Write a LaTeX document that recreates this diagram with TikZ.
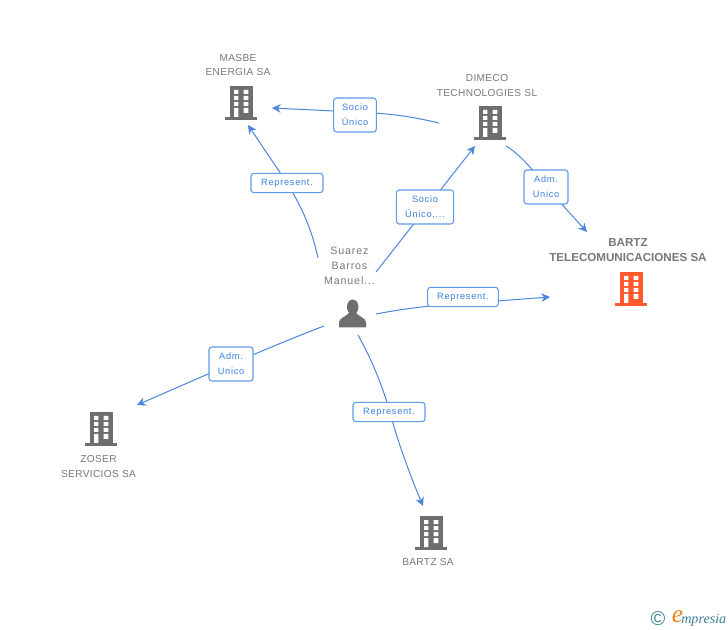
\documentclass[tikz,border=0pt]{standalone}
\usepackage{fontspec}
\setmainfont{Liberation Sans}
\newfontfamily\spaced[LetterSpace=8]{Liberation Sans}
\newfontfamily\spacedn[LetterSpace=3.5]{Liberation Sans}
\newfontfamily\logofont{Liberation Serif}
\usetikzlibrary{arrows.meta}
\definecolor{edgeblue}{HTML}{4A86DC}
\definecolor{boxblue}{HTML}{5E9BEA}
\definecolor{txtblue}{HTML}{3A7FDC}
\definecolor{graytxt}{HTML}{787878}
\definecolor{iconGray}{HTML}{6E6E6E}
\definecolor{iconOrange}{HTML}{FF5A2C}
\definecolor{logoTeal}{HTML}{3F7F96}
\definecolor{logoOrange}{HTML}{F0821E}
\tikzset{
  x=0.75pt,y=-0.75pt,
  conn/.style={draw=edgeblue,line width=0.75pt},
  connarrow/.style={conn,-{Stealth[length=6.5pt,width=6.5pt]}},
  tag/.style={draw=boxblue,line width=0.8pt,rounded corners=2.2pt,fill=white,align=center,
    text=txtblue,font=\spaced\fontsize{6.9pt}{11pt}\selectfont,inner sep=0pt,anchor=center},
  entity/.style={text=graytxt,align=center,font=\spacedn\fontsize{7.6pt}{10.9pt}\selectfont,inner sep=0pt},
  pics/building/.style={code={
    \fill[#1] (-11,-17) rectangle (11.5,14);
    \fill[#1] (-16,14) rectangle (16,17);
    \fill[white] (-7,-13) rectangle (-2.7,-9) (2.5,-13) rectangle (7.3,-9)
                 (-7,-7) rectangle (-2.7,-3) (2.5,-7) rectangle (7.3,-3)
                 (-7,-1) rectangle (-2.7,3) (2.5,-1) rectangle (7.3,3)
                 (-7,5) rectangle (-2.7,14) (2.5,5) rectangle (7.3,10);
  }},
}
\begin{document}
\begin{tikzpicture}
\useasboundingbox (0,0) rectangle (728,630);
% entities
\pic at (241,103) {building=iconGray};
\pic at (490,123) {building=iconGray};
\pic at (631,289) {building=iconOrange};
\pic at (101,429) {building=iconGray};
\pic at (431,533) {building=iconGray};
\node[entity] (masbe) at (238,65) {MASBE\\ENERGIA SA};
\node[entity] (dimeco) at (487,85.5) {DIMECO\\TECHNOLOGIES SL};
\node[entity,font=\bfseries\fontsize{8.7pt}{11.2pt}\selectfont] (bartzt) at (628,250.5) {BARTZ\\TELECOMUNICACIONES SA};
\node[entity] (zoser) at (98.5,466.5) {ZOSER\\SERVICIOS SA};
\node[entity] (bartz) at (428,562) {BARTZ SA};
\node[entity,font=\spaced\fontsize{8pt}{11.3pt}\selectfont] (suarez) at (349.5,266) {Suarez\\Barros\\Manuel...};
% person
\fill[iconGray] (352.7,307) ellipse (5.8 and 7.5);
\fill[iconGray] (339,327.3) -- (339,322) .. controls (339.5,318) and (346,316.5) .. (349,313)
  -- (356,313) .. controls (359,316.5) and (365.5,318) .. (366,322) -- (366,327.3) -- cycle;
% connector ends
\coordinate (a1) at (439,123); \coordinate (b1) at (272,108);
\coordinate (a2) at (318,258); \coordinate (b2) at (248,125);
\coordinate (a3) at (376,272); \coordinate (b3) at (475,146);
\coordinate (a4) at (506,146); \coordinate (b4) at (587,232);
\coordinate (a5) at (376,314); \coordinate (b5) at (550,297);
\coordinate (a6) at (324,326); \coordinate (b6) at (137,405);
\coordinate (a7) at (358,335); \coordinate (b7) at (423,506);
% points under the labels
\coordinate (m1) at (355,112);
\coordinate (m2) at (287,183);
\coordinate (m4) at (546,187);
\coordinate (m5) at (463,303.5);
\coordinate (m6) at (231,364);
\coordinate (m7) at (390,412);
% connectors
\draw[conn] (a1) .. controls (415,117.5) and (395,113.5) .. (m1);
\draw[connarrow] (m1) -- (b1);
\draw[conn] (a2) .. controls (313,235) and (305,212) .. (m2);
\draw[connarrow] (m2) -- (b2);
\draw[connarrow] (a3) -- (b3);
\draw[conn] (a4) .. controls (518,153) and (532,168) .. (m4);
\draw[connarrow] (m4) -- (b4);
\draw[conn] (a5) .. controls (395,310.5) and (420,306) .. (m5);
\draw[connarrow] (m5) -- (b5);
\draw[conn] (a6) .. controls (295,337) and (262,351) .. (m6);
\draw[connarrow] (m6) -- (b6);
\draw[conn] (a7) .. controls (372,360) and (382,385) .. (m7);
\draw[connarrow] (m7) .. controls (397,440) and (410,475) .. (b7);
% labels
\node[tag,minimum width=32pt,minimum height=25.5pt] (t1) at (355,115) {Socio\\Único};
\node[tag,minimum width=54pt,minimum height=14.5pt] (t2) at (287,183) {Represent.};
\node[tag,minimum width=43pt,minimum height=25.5pt] (t3) at (425,207) {Socio\\Único,...};
\node[tag,minimum width=33pt,minimum height=25.5pt] (t4) at (546,187) {Adm.\\Unico};
\node[tag,minimum width=53pt,minimum height=14.5pt] (t5) at (463,297) {Represent.};
\node[tag,minimum width=33pt,minimum height=25.5pt] (t6) at (231,364) {Adm.\\Unico};
\node[tag,minimum width=54pt,minimum height=14.5pt] (t7) at (389,412) {Represent.};
% logo
\node[text=logoTeal,font=\fontsize{15pt}{15pt}\selectfont,inner sep=0pt] (copy) at (658,619) {©};
\node[text=logoOrange,font=\logofont\itshape\fontsize{19pt}{19pt}\selectfont,inner sep=0pt] (loge) at (677.5,616.5) {e};
\node[text=logoTeal,font=\logofont\itshape\fontsize{10.6pt}{10.6pt}\selectfont,inner sep=0pt,anchor=west] (logt) at (681,620) {mpresia};
\end{tikzpicture}
\end{document}
